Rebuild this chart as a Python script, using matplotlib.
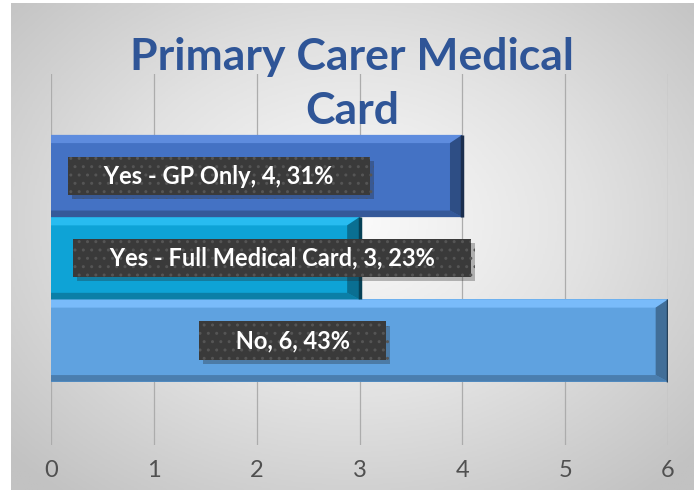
import numpy as np
import matplotlib.pyplot as plt
import matplotlib.colors as mcolors
import matplotlib.patheffects as pe
from matplotlib.patches import Polygon

plt.rcParams['font.family'] = ['Lato', 'DejaVu Sans']

categories = ["No", "Yes - Full Medical Card", "Yes - GP Only"]
values = [6, 3, 4]
percents = [43, 23, 31]
label_x = [2.35, 2.15, 1.63]
bar_colors = ["#5fa2e0", "#0ea3d6", "#4472c4"]

fig = plt.figure(figsize=(6.97, 4.92), dpi=100)

# radial grey background
bg = fig.add_axes([11 / 697, 2 / 492, 683 / 697, 487 / 492])
yy, xx = np.mgrid[-1:1:300j, -1:1:400j]
r = np.sqrt((xx * 0.95) ** 2 + ((yy + 0.1) * 0.9) ** 2)
cmap = mcolors.LinearSegmentedColormap.from_list("bg", ["#fbfbfb", "#e2e2e2", "#c2c2c2"])
bg.imshow(r, cmap=cmap, aspect="auto", extent=[0, 1, 0, 1], vmin=0, vmax=1.3)
bg.axis("off")

ax = fig.add_axes([51 / 697, 47 / 492, 617 / 697, 371 / 492])
ax.set_facecolor("none")
ax.set_xlim(0, 6)
ax.set_ylim(-1.27, 3.24)
for s in ax.spines.values():
    s.set_visible(False)
ax.set_xticks(range(7))
ax.set_yticks([])
ax.tick_params(axis="x", length=0, pad=11, labelsize=17, labelcolor="#505050")
ax.grid(axis="x", color="#acacac", lw=0.9)
ax.set_axisbelow(True)

ypos = np.arange(len(categories))
ax.barh(ypos, values, height=1.0, color=bar_colors, zorder=2)

# bevel edges
dx, dy = 0.12, 0.1
for y, v, c in zip(ypos, values, bar_colors):
    base = np.array(mcolors.to_rgb(c))
    light = np.clip(base + 0.1, 0, 1)
    dark = base * 0.78
    side = base * 0.68
    darker = base * 0.4
    top, bot = y + 0.5, y - 0.5
    ax.add_patch(Polygon([(0, top), (v, top), (v - dx, top - dy), (0, top - dy)],
                         closed=True, color=light, lw=0, zorder=3))
    ax.add_patch(Polygon([(0, bot), (v, bot), (v - dx, bot + dy * 0.8), (0, bot + dy * 0.8)],
                         closed=True, color=dark, lw=0, zorder=3))
    ax.add_patch(Polygon([(v, top), (v, bot), (v - dx, bot + dy * 0.8), (v - dx, top - dy)],
                         closed=True, color=side, lw=0, zorder=3))
    ax.plot([v, v], [bot, top], color=darker, lw=2.5, zorder=4, solid_capstyle="butt")

# data labels
for y, v, p, cat, lx in zip(ypos, values, percents, categories, label_x):
    txt = "     %s, %d, %d%%     " % (cat, v, p)
    t = ax.text(lx, y, txt, ha="center", va="center", fontsize=17, fontweight="bold",
                color="white", zorder=6,
                bbox=dict(boxstyle="square,pad=0.32", fc="#3a3a3a", ec="#555555",
                          lw=0, hatch=".."))
    t.get_bbox_patch().set_path_effects(
        [pe.SimplePatchShadow(offset=(3, -3), shadow_rgbFace="#222222", alpha=0.3),
         pe.Normal()])

fig.text(352 / 697, 1 - 57 / 492, "Primary Carer Medical", ha="center", va="center",
         fontsize=32, fontweight="bold", color="#2f5597")
fig.text(352 / 697, 1 - 111 / 492, "Card", ha="center", va="center",
         fontsize=32, fontweight="bold", color="#2f5597")

fig.savefig("out.png", dpi=100)
